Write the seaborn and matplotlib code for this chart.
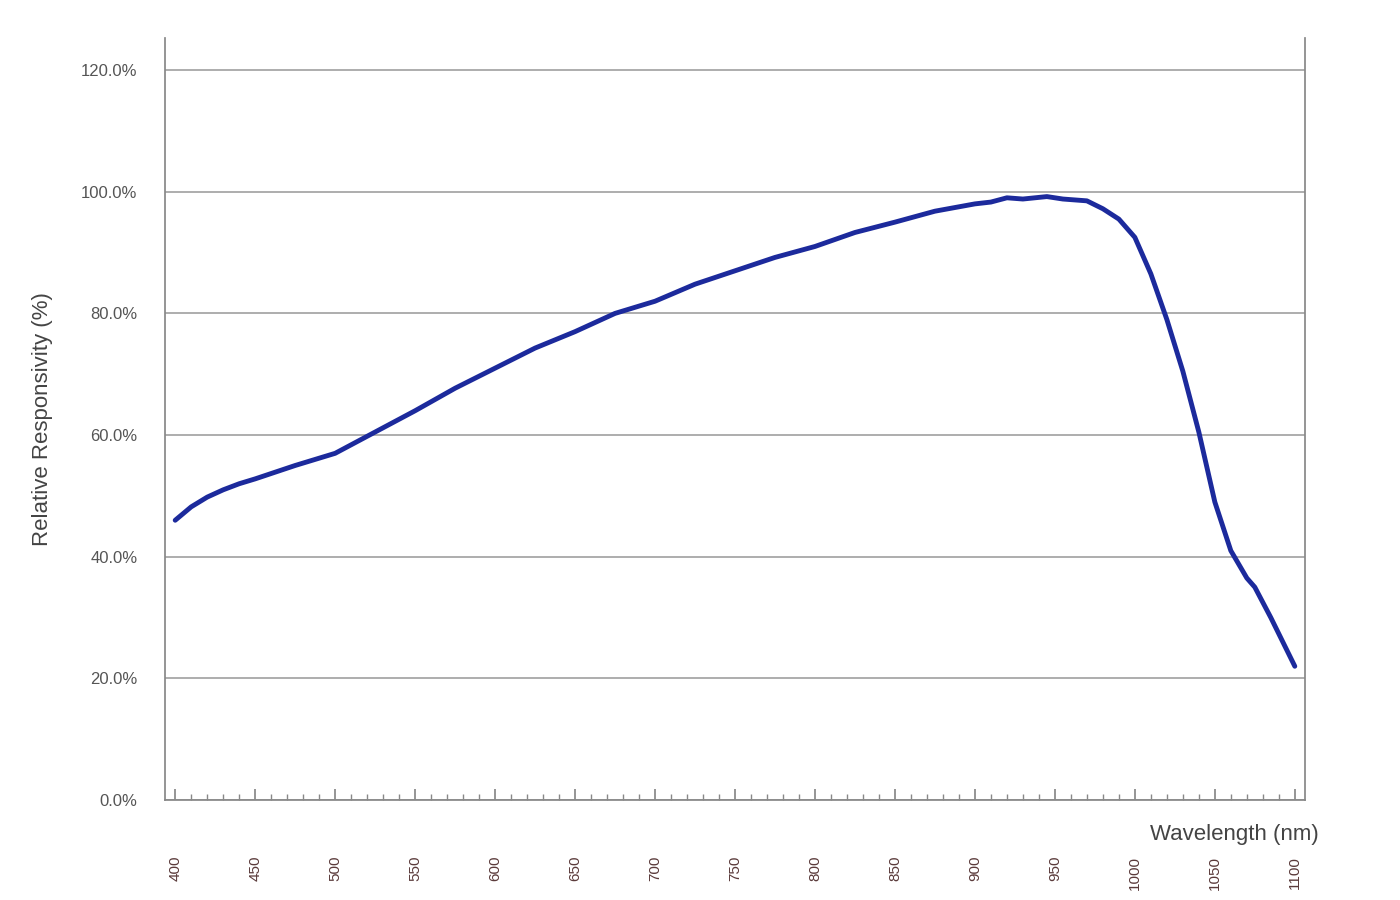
import matplotlib
matplotlib.use("Agg")
import matplotlib.pyplot as plt
import seaborn as sns
import pandas as pd
from matplotlib.ticker import MultipleLocator, FuncFormatter

wavelength = [400,410,420,430,440,450,475,500,525,550,575,600,625,650,675,700,725,750,775,800,
              825,850,875,900,910,920,930,945,955,970,980,990,1000,1010,1020,1030,1040,1050,1060,1070,1075,1085,1100]
response = [46,48.2,49.8,51,52,52.8,55,57,60.5,64,67.7,71,74.3,77,80,82,84.8,87,89.2,91,
            93.3,95,96.8,98,98.3,99,98.8,99.2,98.8,98.5,97.2,95.5,92.5,86.5,79,70.5,60.5,49,41,36.5,35,30,22]

df = pd.DataFrame({"wl": wavelength, "r": response})
sns.set_theme(style="white")
plt.rcParams['font.family'] = ['Liberation Sans', 'DejaVu Sans']

fig = plt.figure(figsize=(14, 9), dpi=100)
ax = fig.add_axes([0.118, 0.111, 0.814, 0.847])
sns.lineplot(data=df, x="wl", y="r", ax=ax, color="#1c2a9c", linewidth=3.5)
ax.set_xlim(393.75, 1106.25)
ax.set_ylim(0, 125.3)
ax.yaxis.set_major_locator(MultipleLocator(20))
ax.yaxis.set_major_formatter(FuncFormatter(lambda v, p: f"{v:.1f}%"))
ax.xaxis.set_major_locator(MultipleLocator(50))
ax.xaxis.set_minor_locator(MultipleLocator(10))
ax.grid(axis="y", color="#a0a0a0", linewidth=1.2)
for s in ["left", "right", "bottom"]:
    ax.spines[s].set_visible(True)
    ax.spines[s].set_color("#888888")
ax.spines["top"].set_visible(False)
ax.tick_params(axis="x", which="major", direction="in", length=8, color="#888888",
               labelrotation=90, labelsize=11, labelcolor="#5a3a3a", bottom=True, pad=40)
ax.tick_params(axis="x", which="minor", direction="in", length=4, color="#888888", bottom=True)
ax.tick_params(axis="y", length=0, labelsize=12, labelcolor="#555555", pad=20)
ax.set_xlabel("")
ax.set_ylabel("Relative Responsivity (%)", fontsize=16, color="#444444", labelpad=20)
ax.text(1.012, -0.045, "Wavelength (nm)", transform=ax.transAxes, ha="right", va="center",
        fontsize=16, color="#444444")
fig.savefig("out.png")
